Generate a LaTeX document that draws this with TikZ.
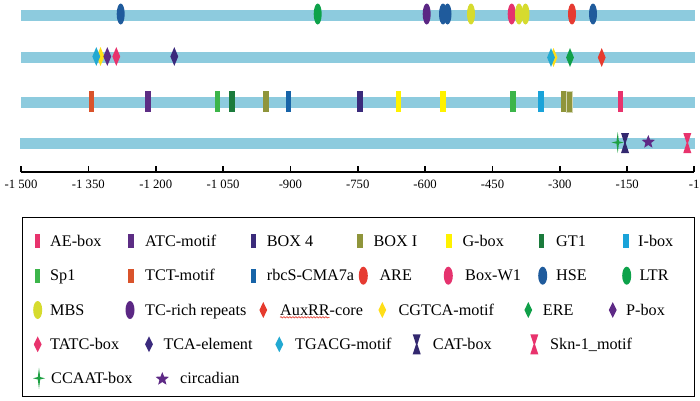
\documentclass[tikz,border=0pt]{standalone}
\usepackage{fontspec}
\setmainfont{Liberation Serif}
\usetikzlibrary{shapes.geometric,decorations.pathmorphing}

\definecolor{barblue}{HTML}{8DCBDE}
\definecolor{aebox}{HTML}{E8336D}
\definecolor{atc}{HTML}{5C2D84}
\definecolor{boxfour}{HTML}{3B2B7B}
\definecolor{boxone}{HTML}{8F953B}
\definecolor{gbox}{HTML}{FFF200}
\definecolor{gtone}{HTML}{1B7B3C}
\definecolor{ibox}{HTML}{1AA3D9}
\definecolor{spone}{HTML}{3CB54A}
\definecolor{tct}{HTML}{D9532B}
\definecolor{rbcs}{HTML}{1764A8}
\definecolor{are}{HTML}{E63B32}
\definecolor{boxw}{HTML}{E5336E}
\definecolor{hse}{HTML}{1F5B9C}
\definecolor{ltr}{HTML}{0DA24A}
\definecolor{mbs}{HTML}{D6DB2E}
\definecolor{tcrich}{HTML}{5B2784}
\definecolor{auxrr}{HTML}{E63B2E}
\definecolor{cgtca}{HTML}{FFDE17}
\definecolor{ere}{HTML}{10A049}
\definecolor{pbox}{HTML}{5E2A86}
\definecolor{tatc}{HTML}{E8336D}
\definecolor{tca}{HTML}{3B2A7D}
\definecolor{tgacg}{HTML}{22A9D2}
\definecolor{catbox}{HTML}{33286F}
\definecolor{skn}{HTML}{E8336D}
\definecolor{ccaat}{HTML}{1EA043}
\definecolor{circ}{HTML}{5E2A86}

% hourglass and four-point star marks: x, y, colour
\newcommand{\hglass}[3]{\fill[#3] (#1,#2) +(-4,-10) -- +(4,-10) -- +(0.7,0) -- +(4,10) -- +(-4,10) -- +(-0.7,0) -- cycle;}
\newcommand{\fourstar}[3]{\fill[#3] (#1,#2) +(0,-10.5) -- +(1.2,-1.2) -- +(6,0) -- +(1.2,1.2) -- +(0,10.5) -- +(-1.2,1.2) -- +(-6,0) -- +(-1.2,-1.2) -- cycle;}

\begin{document}
\begin{tikzpicture}[x=1pt,y=-1pt]
        \tikzstyle{boxmark}=[rectangle,inner sep=0pt,minimum width=5.5pt,minimum height=21pt]
        \tikzstyle{ovalmark}=[ellipse,inner sep=0pt,minimum width=8pt,minimum height=21pt]
        \tikzstyle{diamark}=[diamond,inner sep=0pt,minimum width=8pt,minimum height=19pt]
        \tikzstyle{starmark}=[star,star points=5,star point ratio=2.3,inner sep=0pt,minimum size=14pt]
        \tikzstyle{legtext}=[anchor=base west,inner sep=0pt,font=\fontsize{16.2}{19}\selectfont]
        \tikzstyle{ticklab}=[anchor=base,inner sep=0pt,font=\fontsize{12.7}{15}\selectfont]
        \useasboundingbox (0,0) rectangle (700,400);
        \fill[white] (0,0) rectangle (700,400);
        % promoter bars
        \fill[barblue] (21,9.5) rectangle (695,20.5);
        \fill[barblue] (21,52.3) rectangle (695,63);
        \fill[barblue] (21,97.3) rectangle (695,108.2);
        \fill[barblue] (20,137.8) rectangle (695,149);
        % row 1
        \node [ovalmark,fill=hse] (hse1) at (120.7,14) {};
        \node [ovalmark,fill=ltr] (ltr1) at (317.7,14) {};
        \node [ovalmark,fill=tcrich] (tcr1) at (426.7,14) {};
        \node [ovalmark,fill=hse] (hse2) at (443,14) {};
        \node [ovalmark,fill=hse] (hse3) at (447.5,14) {};
        \node [ovalmark,fill=mbs] (mbs1) at (471,14) {};
        \node [ovalmark,fill=boxw] (bw1) at (511.7,14) {};
        \node [ovalmark,fill=mbs] (mbs2) at (519,14) {};
        \node [ovalmark,fill=mbs] (mbs3) at (525.5,14) {};
        \node [ovalmark,fill=are] (are1) at (572,14) {};
        \node [ovalmark,fill=hse] (hse4) at (593,14) {};
        % row 2
        \node [diamark,fill=cgtca] (cg1) at (100.5,56.5) {};
        \node [diamark,fill=tgacg] (tg1) at (96.3,56.5) {};
        \node [diamark,fill=pbox] (pb1) at (107.3,56.5) {};
        \node [diamark,fill=tatc] (ta1) at (116.3,56.5) {};
        \node [diamark,fill=tca] (tc1) at (174.3,56.5) {};
        \node [diamark,fill=cgtca] (cg2) at (553.5,57.5) {};
        \node [diamark,fill=tgacg] (tg2) at (551,57.5) {};
        \node [diamark,fill=ere] (er1) at (570,57.5) {};
        \node [diamark,fill=auxrr] (ax1) at (601.7,57.5) {};
        % row 3
        \node [boxmark,fill=tct] (tct1) at (91.3,101.7) {};
        \node [boxmark,fill=atc] (atc1) at (148,101.7) {};
        \node [boxmark,fill=spone] (sp1) at (217.3,101.7) {};
        \node [boxmark,fill=gtone] (gt1) at (232,101.7) {};
        \node [boxmark,fill=boxone] (bi1) at (266,101.7) {};
        \node [boxmark,fill=rbcs] (rb1) at (288.7,101.7) {};
        \node [boxmark,fill=boxfour] (b41) at (360,101.7) {};
        \node [boxmark,fill=gbox] (gb1) at (398.3,101.7) {};
        \node [boxmark,fill=gbox] (gb2) at (443,101.7) {};
        \node [boxmark,fill=spone] (sp2) at (513,101.7) {};
        \node [boxmark,fill=ibox] (ib1) at (541,101.7) {};
        \node [boxmark,fill=boxone] (bi2) at (563.3,101.7) {};
        \node [boxmark,fill=boxone,draw=boxone!40,line width=0.7pt] (bi3) at (569.3,101.7) {};
        \node [boxmark,fill=aebox] (ae1) at (620.7,101.7) {};
        % row 4
        \fourstar{617.7}{142.5}{ccaat}
        \hglass{625}{143}{catbox}
        \node [starmark,fill=circ] (ci1) at (648.3,142) {};
        \hglass{687.3}{143}{skn}
        % axis
        \draw[line width=1.8pt] (21,172) -- (694,172);
        \foreach \v/\t in {-1500/{-1 500},-1350/{-1 350},-1200/{-1 200},-1050/{-1 050},-900/-900,-750/-750,-600/-600,-450/-450,-300/-300,-150/-150,-1/-1}
        {
           \pgfmathsetmacro{\px}{21+(\v+1500)*0.449}
           \draw[line width=1.6pt] (\px,172) -- ++(0,-6);
           \node [ticklab] (t\v) at (\px,188) {\t};
        }
        % legend
        \draw[line width=1.4pt] (22.7,217.7) rectangle (694.3,396.7);
        \node [boxmark,minimum height=14pt,fill=aebox] (l-ae) at (37.7,241) {};
        \node [legtext] (x-ae) at (50,246) {AE-box};
        \node [boxmark,minimum height=14pt,fill=atc] (l-atc) at (131,241) {};
        \node [legtext] (x-atc) at (145,246) {ATC-motif};
        \node [boxmark,minimum height=14pt,fill=boxfour] (l-b4) at (253.3,241) {};
        \node [legtext] (x-b4) at (266.7,246) {BOX 4};
        \node [boxmark,minimum height=14pt,fill=boxone] (l-bi) at (360,241) {};
        \node [legtext] (x-bi) at (373.3,246) {BOX I};
        \node [boxmark,minimum height=14pt,fill=gbox] (l-gb) at (449,241) {};
        \node [legtext] (x-gb) at (462.3,246) {G-box};
        \node [boxmark,minimum height=14pt,fill=gtone] (l-gt) at (541.7,241) {};
        \node [legtext] (x-gt) at (556,246) {GT1};
        \node [boxmark,minimum height=14pt,fill=ibox] (l-ib) at (626,241) {};
        \node [legtext] (x-ib) at (638,246) {I-box};

        \node [boxmark,minimum height=14pt,fill=spone] (l-sp) at (37.7,275.7) {};
        \node [legtext] (x-sp) at (50,280.7) {Sp1};
        \node [boxmark,minimum height=14pt,fill=tct] (l-tct) at (131,275.7) {};
        \node [legtext] (x-tct) at (145,280.7) {TCT-motif};
        \node [boxmark,minimum height=14pt,fill=rbcs] (l-rb) at (253.3,275.7) {};
        \node [legtext] (x-rb) at (266.7,280.7) {rbcS-CMA7a};
        \node [ovalmark,minimum width=9pt,minimum height=18pt,fill=are] (l-are) at (363.3,275.7) {};
        \node [legtext] (x-are) at (379.3,280.7) {ARE};
        \node [ovalmark,minimum width=9pt,minimum height=18pt,fill=boxw] (l-bw) at (448.3,275.7) {};
        \node [legtext] (x-bw) at (465,280.7) {Box-W1};
        \node [ovalmark,minimum width=9pt,minimum height=18pt,fill=hse] (l-hse) at (542.7,275.7) {};
        \node [legtext] (x-hse) at (556,280.7) {HSE};
        \node [ovalmark,minimum width=9pt,minimum height=18pt,fill=ltr] (l-ltr) at (626.7,275.7) {};
        \node [legtext] (x-ltr) at (639.3,280.7) {LTR};

        \node [ovalmark,minimum width=9pt,minimum height=18pt,fill=mbs] (l-mbs) at (37.7,310) {};
        \node [legtext] (x-mbs) at (50,315) {MBS};
        \node [ovalmark,minimum width=9pt,minimum height=18pt,fill=tcrich] (l-tcr) at (130,310) {};
        \node [legtext] (x-tcr) at (145,315) {TC-rich repeats};
        \node [diamark,minimum height=16pt,fill=auxrr] (l-ax) at (263.3,310) {};
        \node [legtext] (x-ax) at (280,315) {AuxRR-core};
        \draw[auxrr,line width=0.6pt,decorate,decoration={snake,amplitude=0.7pt,segment length=3pt}] ([yshift=-2.3pt]x-ax.base west) -- ++(49.5,0);
        \node [diamark,minimum height=16pt,fill=cgtca] (l-cg) at (382.3,310) {};
        \node [legtext] (x-cg) at (398.3,315) {CGTCA-motif};
        \node [diamark,minimum height=16pt,fill=ere] (l-ere) at (528.3,310) {};
        \node [legtext] (x-ere) at (542.7,315) {ERE};
        \node [diamark,minimum height=16pt,fill=pbox] (l-pb) at (612.7,310) {};
        \node [legtext] (x-pb) at (626,315) {P-box};

        \node [diamark,minimum height=16pt,fill=tatc] (l-ta) at (37.7,344.3) {};
        \node [legtext] (x-ta) at (50,349.3) {TATC-box};
        \node [diamark,minimum height=16pt,fill=tca] (l-tc) at (149,344.3) {};
        \node [legtext] (x-tc) at (163.3,349.3) {TCA-element};
        \node [diamark,minimum height=16pt,fill=tgacg] (l-tg) at (279.3,344.3) {};
        \node [legtext] (x-tg) at (295,349.3) {TGACG-motif};
        \hglass{416.7}{344.3}{catbox}
        \node [legtext] (x-cat) at (432.7,349.3) {CAT-box};
        \hglass{534.3}{344.3}{skn}
        \node [legtext] (x-skn) at (550,349.3) {Skn-1\_motif};

        \fourstar{39}{378.3}{ccaat}
        \node [legtext] (x-cc) at (51,383.3) {CCAAT-box};
        \node [starmark,fill=circ] (l-ci) at (162.3,379) {};
        \node [legtext] (x-ci) at (180,383.3) {circadian};
\end{tikzpicture}
\end{document}
